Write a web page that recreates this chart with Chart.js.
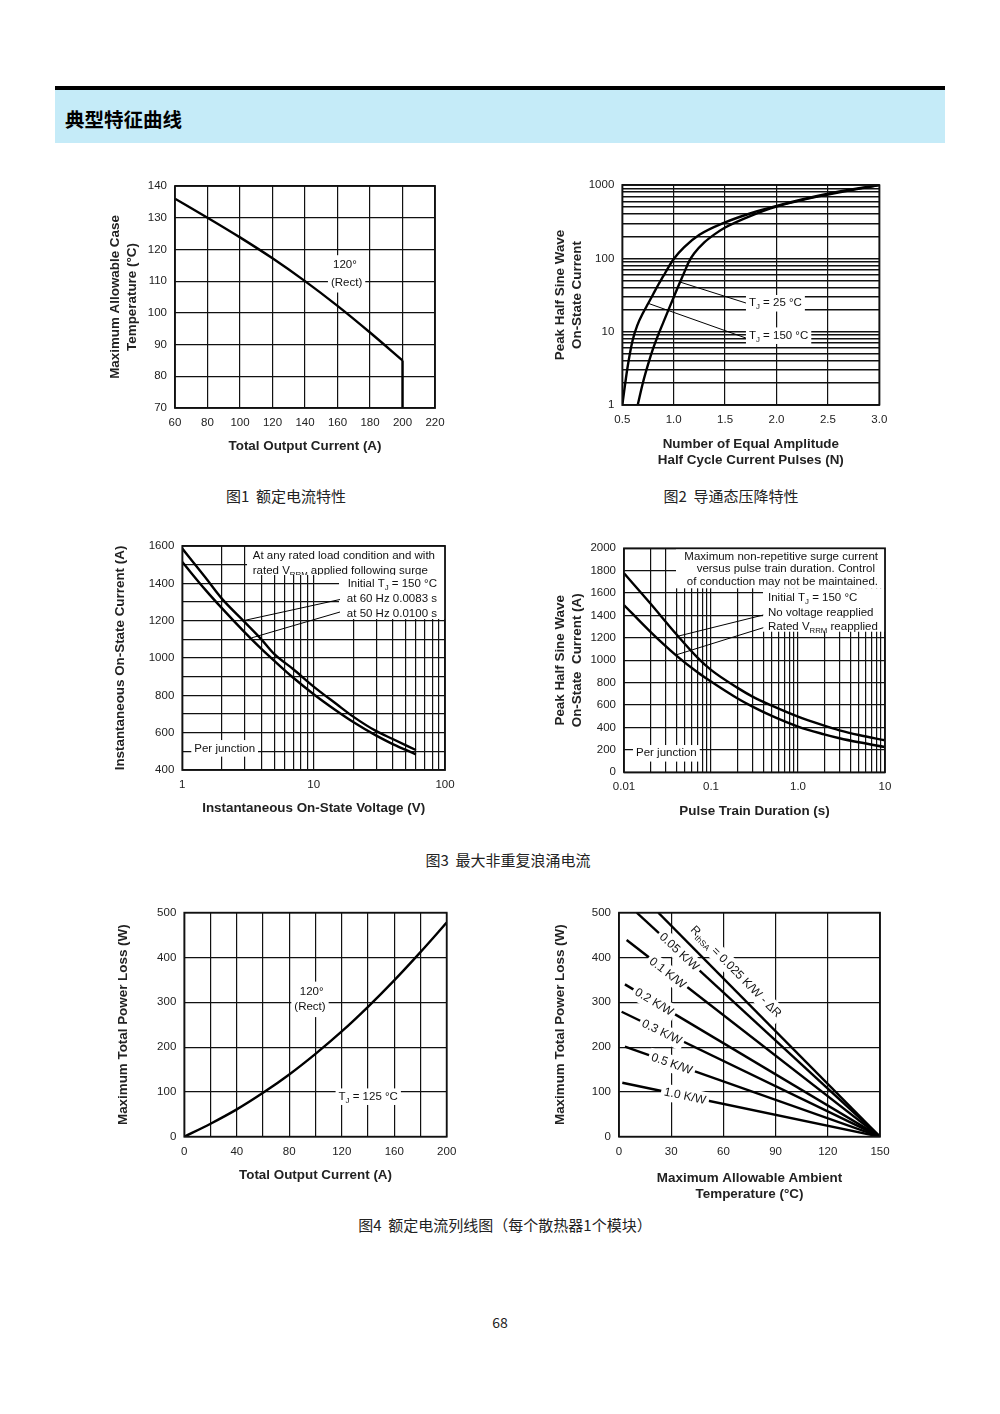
<!DOCTYPE html>
<html>
<head>
<meta charset="utf-8">
<script src="https://cdn.jsdelivr.net/npm/chart.js@4.4.1/dist/chart.umd.min.js"></script>
<style>
  body { margin: 0; width: 1000px; height: 1414px; position: relative; overflow: hidden; background: #fff; font-family: "Noto Sans CJK SC", sans-serif; }
  .bar { position: absolute; left: 55px; width: 890px; }
  .cap { position: absolute; width: 400px; height: 20px; line-height: 20px; font-size: 15px; color: #222; text-align: center; white-space: pre; }
  canvas { position: absolute; }
</style>
</head>
<body>
<div class="bar" style="top:86px;height:4px;background:#000"></div>
<div class="bar" style="top:90px;height:53px;background:#c5ebf8"></div>
<div style="position:absolute;left:65px;top:105px;height:28px;line-height:28px;font-size:19.5px;font-weight:bold;color:#000">典型特征曲线</div>

<canvas id="fig1"></canvas>
<canvas id="fig2"></canvas>
<canvas id="fig3"></canvas>
<canvas id="fig4"></canvas>
<canvas id="fig5"></canvas>
<canvas id="fig6"></canvas>

<div class="cap" style="left:86px;top:486px">图1  额定电流特性</div>
<div class="cap" style="left:531px;top:486px">图2  导通态压降特性</div>
<div class="cap" style="left:308px;top:850px">图3  最大非重复浪涌电流</div>
<div class="cap" style="left:305px;top:1215px">图4  额定电流列线图（每个散热器1个模块）</div>
<div class="cap" style="left:300px;top:1312px;font-size:14px">68</div>

<script>
const FONT = '"Liberation Sans", Arial, sans-serif';

// fig 1 - case temperature vs output current
const fig1Current = [60, 80, 100, 120, 140, 160, 180, 200];
const fig1CaseTemp = [136, 130, 123.8, 117.2, 110, 102.2, 93.8, 85];
const fig1DropCurrent = [200, 200];
const fig1DropTemp = [85, 70];
const fig1XTicks = [60, 80, 100, 120, 140, 160, 180, 200, 220];
const fig1YTicks = [70, 80, 90, 100, 110, 120, 130, 140];

// fig 2 - surge current vs number of pulses
const fig2Pulses150 = [0.5, 0.55, 0.6, 0.65, 0.7, 0.75, 0.8, 0.85, 0.9, 0.95, 1.0, 1.1, 1.25, 1.5, 1.75, 2.0, 2.5, 3.0];
const fig2Current150 = [1, 3.2, 7.6, 12.6, 17.8, 24, 32.4, 43.6, 57.5, 76, 98, 141, 209, 309, 412, 519, 759, 1000];
const fig2Pulses25 = [0.65, 0.7, 0.75, 0.8, 0.85, 0.9, 0.95, 1.0, 1.06, 1.1, 1.15, 1.2, 1.3, 1.4, 1.5, 1.75, 2.0, 2.5, 3.0];
const fig2Current25 = [1, 2.0, 3.55, 5.9, 9.1, 13.5, 20, 29.5, 46.8, 63, 91, 117, 166, 214, 263, 380, 507, 741, 1000];
const fig2XTicks = [0.5, 1.0, 1.5, 2.0, 2.5, 3.0];
const fig2XLabels = ['0.5', '1.0', '1.5', '2.0', '2.5', '3.0'];
const fig2YTicks = [1, 10, 100, 1000];

// fig 3 - on-state current vs voltage
const fig3Voltage = [1, 1.5, 2, 3, 4, 5, 7, 10, 15, 20, 30, 40, 60];
const fig3Current60Hz = [1586, 1431, 1318, 1191, 1100, 1022, 940, 847, 752, 686, 608, 566, 507];
const fig3Current50Hz = [1514, 1365, 1267, 1136, 1049, 986, 894, 806, 716, 657, 584, 539, 484];
const fig3XTicks = [1, 10, 100];
const fig3YTicks = [400, 600, 800, 1000, 1200, 1400, 1600];

// fig 4 - surge current vs pulse train duration
const fig4Duration = [0.01, 0.02, 0.04, 0.07, 0.1, 0.2, 0.3, 0.5, 1, 2, 3, 5, 10];
const fig4NoVoltage = [1777, 1509, 1232, 1024, 914, 756, 676, 595, 497, 417, 375, 333, 286];
const fig4RatedVrrm = [1494, 1256, 1042, 893, 810, 661, 586, 503, 408, 339, 304, 268, 226];
const fig4XTicks = [0.01, 0.1, 1, 10];
const fig4XLabels = ['0.01', '0.1', '1.0', '10'];
const fig4YTicks = [0, 200, 400, 600, 800, 1000, 1200, 1400, 1600, 1800, 2000];

// fig 5 - power loss vs output current
const fig5Current = [0, 20, 40, 60, 80, 100, 120, 140, 160, 180, 200];
const fig5Loss = [0, 29, 61, 98, 139, 185, 235, 290, 349, 412, 478];
const fig5XTicks = [0, 40, 80, 120, 160, 200];
const fig5YTicks = [0, 100, 200, 300, 400, 500];

// fig 6 - power loss vs ambient temperature, one line per heatsink resistance
const fig6Resist = ['0.025', '0.05', '0.1', '0.2', '0.3', '0.5', '1.0'];
const fig6StartTemp = [22.6, 10.2, 4.4, 3.4, 1.5, 3.4, 1.9];
const fig6StartLoss = [500, 500, 439, 340, 279, 201, 120.5];
const fig6EndTemp = 150;
const fig6EndLoss = 0;
const fig6XTicks = [0, 30, 60, 90, 120, 150];
const fig6YTicks = [0, 100, 200, 300, 400, 500];

// grid helpers
const range = (a, b, s) => { const r = []; for (let v = a; v <= b + 1e-9; v += s) r.push(+v.toFixed(6)); return r; };
const logGrid = decades => decades.flatMap((d, i) => (i === decades.length - 1 ? [1] : [1, 2, 3, 4, 5, 6, 7, 8, 9]).map(m => +(m * d).toPrecision(6)));

const pts = (xs, ys) => xs.map((x, i) => ({ x, y: ys[i] }));

function curve(xs, ys, extra) {
  return Object.assign({
    data: pts(xs, ys), showLine: true, pointRadius: 0, borderColor: '#000',
    borderWidth: 2.4, cubicInterpolationMode: 'monotone', tension: 0.4, fill: false
  }, extra || {});
}

function axis(o) {
  return {
    type: o.type || 'linear', position: o.pos, min: o.min, max: o.max,
    afterBuildTicks: s => { s.ticks = o.grid.map(v => ({ value: v })); },
    afterFit: s => { if (o.pos === 'left') s.width = o.size; else s.height = o.size; },
    ticks: {
      autoSkip: false, maxRotation: 0, padding: 8, color: '#222',
      font: { family: FONT, size: 11.5 },
      callback: v => {
        const i = o.ticks.findIndex(t => Math.abs(t - v) <= Math.abs(t) * 1e-6 + 1e-9);
        return i < 0 ? '' : (o.labels ? o.labels[i] : String(o.ticks[i]));
      }
    },
    grid: { color: '#111', lineWidth: o.gw || 1.2, drawTicks: false },
    border: { display: false },
    title: {
      display: true, text: o.title, color: '#222', padding: 0,
      font: { family: FONT, size: 13.4, weight: 'bold', lineHeight: 1.25 }
    }
  };
}

// text with _{sub} markup
function parseSegs(s) {
  return s.split(/_\{([^}]*)\}/).map((t, i) => ({ t, sub: i % 2 === 1 })).filter(p => p.t);
}

function drawNote(chart, t, px, py) {
  const ctx = chart.ctx;
  const size = t.size || 11.5;
  const segs = parseSegs(t.s);
  const fontOf = p => (p.sub ? size * 0.68 : size) + 'px ' + FONT;
  const widths = segs.map(p => { ctx.font = fontOf(p); return ctx.measureText(p.t).width; });
  const total = widths.reduce((a, b) => a + b, 0);
  let x0 = t.align === 'left' ? 0 : t.align === 'right' ? -total : -total / 2;
  ctx.save();
  if (t.clipY !== undefined) {
    ctx.beginPath();
    ctx.rect(0, 0, chart.width, py(t.clipY));
    ctx.clip();
  }
  ctx.translate(px(t.x), py(t.y));
  if (t.along) {
    const a = t.along;
    ctx.rotate(Math.atan2(py(a[3]) - py(a[1]), px(a[2]) - px(a[0])));
  }
  if (t.bg) {
    const bh = t.bh || 1.44;
    ctx.fillStyle = '#fff';
    ctx.fillRect(x0 - 3, -size * bh / 2, total + 6, size * bh);
  }
  ctx.fillStyle = '#111';
  ctx.textBaseline = 'middle';
  ctx.textAlign = 'left';
  segs.forEach((p, i) => {
    ctx.font = fontOf(p);
    ctx.fillText(p.t, x0, p.sub ? size * 0.32 : 0);
    x0 += widths[i];
  });
  ctx.restore();
}

function notesPlugin(notes) {
  return {
    id: 'notes',
    afterDatasetsDraw(chart) {
      const ctx = chart.ctx;
      const px = v => chart.scales.x.getPixelForValue(v);
      const py = v => chart.scales.y.getPixelForValue(v);
      ctx.save();
      ctx.fillStyle = '#fff';
      (notes.boxes || []).forEach(b => {
        const x1 = px(b[0]), y1 = py(b[1]), x2 = px(b[2]), y2 = py(b[3]);
        ctx.fillRect(Math.min(x1, x2), Math.min(y1, y2), Math.abs(x2 - x1), Math.abs(y2 - y1));
      });
      ctx.strokeStyle = '#000';
      ctx.lineWidth = 1;
      (notes.leaders || []).forEach(l => {
        ctx.beginPath();
        ctx.moveTo(px(l[0]), py(l[1]));
        ctx.lineTo(px(l[2]), py(l[3]));
        ctx.stroke();
      });
      ctx.restore();
      (notes.texts || []).forEach(t => drawNote(chart, t, px, py));
    }
  };
}

const framePlugin = {
  id: 'frame',
  afterDraw(chart) {
    const { left, top, right, bottom } = chart.chartArea;
    const ctx = chart.ctx;
    ctx.save();
    ctx.strokeStyle = '#111';
    ctx.lineWidth = 1.8;
    ctx.strokeRect(left, top, right - left, bottom - top);
    ctx.restore();
  }
};

// box / plot = [left, top, right, bottom] in page pixels
function makeChart(id, box, plot, xAxis, yAxis, datasets, notes) {
  const cv = document.getElementById(id);
  const w = box[2] - box[0], h = box[3] - box[1];
  cv.width = w; cv.height = h;
  cv.style.left = box[0] + 'px'; cv.style.top = box[1] + 'px';
  cv.style.width = w + 'px'; cv.style.height = h + 'px';
  xAxis.pos = 'bottom'; xAxis.size = box[3] - plot[3];
  yAxis.pos = 'left'; yAxis.size = plot[0] - box[0];
  return new Chart(cv, {
    type: 'scatter',
    data: { datasets },
    options: {
      responsive: false, animation: false, events: [],
      layout: { padding: { top: plot[1] - box[1], right: box[2] - plot[2], left: 0, bottom: 0 } },
      plugins: { legend: { display: false }, tooltip: { enabled: false } },
      scales: { x: axis(xAxis), y: axis(yAxis) }
    },
    plugins: [notesPlugin(notes), framePlugin]
  });
}

// fig 1
makeChart('fig1', [107, 168, 460, 455], [175, 186, 435, 408],
  { min: 60, max: 220, grid: fig1XTicks, ticks: fig1XTicks, title: 'Total Output Current (A)' },
  { min: 70, max: 140, grid: fig1YTicks, ticks: fig1YTicks, title: ['Maximum Allowable Case', 'Temperature (°C)'] },
  [curve(fig1Current, fig1CaseTemp), curve(fig1DropCurrent, fig1DropTemp, { tension: 0, cubicInterpolationMode: 'default' })],
  { texts: [
      { x: 164.6, y: 115.1, align: 'center', s: '120°', bg: true, bh: 1.7 },
      { x: 165.6, y: 109.5, align: 'center', s: '(Rect)', bg: true, bh: 1.7 }
  ] });

// fig 2
makeChart('fig2', [552, 167, 905, 469], [622.3, 185, 879.3, 405],
  { min: 0.5, max: 3.0, grid: fig2XTicks, ticks: fig2XTicks, labels: fig2XLabels,
    title: ['Number of Equal Amplitude', 'Half Cycle Current Pulses (N)'] },
  { type: 'logarithmic', min: 1, max: 1000, grid: logGrid([1, 10, 100, 1000]), ticks: fig2YTicks, gw: 1.5,
    title: ['Peak Half Sine Wave', 'On-State Current'] },
  [curve(fig2Pulses150, fig2Current150), curve(fig2Pulses25, fig2Current25)],
  { leaders: [[1.71, 24.4, 1.061, 47.5], [1.71, 8.12, 0.753, 24.3]],
    texts: [
      { x: 1.732, y: 24.4, align: 'left', s: 'T_{J} = 25 °C', bg: true },
      { x: 1.732, y: 8.81, align: 'left', s: 'T_{J} = 150 °C', bg: true }
  ] });

// fig 3
makeChart('fig3', [112, 528, 470, 817], [182.3, 546, 445, 770],
  { type: 'logarithmic', min: 1, max: 100, grid: logGrid([1, 10, 100]), ticks: fig3XTicks,
    title: 'Instantaneous On-State Voltage (V)' },
  { min: 400, max: 1600, grid: range(400, 1600, 100), ticks: fig3YTicks,
    title: 'Instantaneous On-State Current (A)' },
  [curve(fig3Voltage, fig3Current60Hz), curve(fig3Voltage, fig3Current50Hz)],
  { boxes: [[3.11, 1600, 100, 1444.6], [15.6, 1444.6, 100, 1209]],
    leaders: [[15.87, 1313.4, 2.914, 1200], [15.87, 1246.4, 3.376, 1108]],
    texts: [
      { x: 3.44, y: 1548, align: 'left', s: 'At any rated load condition and with' },
      { x: 3.44, y: 1467.7, align: 'left', s: 'rated V_{RRM} applied following surge', clipY: 1444.6 },
      { x: 86.9, y: 1394.8, align: 'right', s: 'Initial T_{J} = 150 °C' },
      { x: 86.9, y: 1314.5, align: 'right', s: 'at 60 Hz 0.0083 s' },
      { x: 86.9, y: 1235.7, align: 'right', s: 'at 50 Hz 0.0100 s' },
      { x: 1.234, y: 516, align: 'left', s: 'Per junction', bg: true }
  ] });

// fig 4
makeChart('fig4', [552, 530, 910, 820], [624, 548.3, 885, 772.3],
  { type: 'logarithmic', min: 0.01, max: 10, grid: logGrid([0.01, 0.1, 1, 10]), ticks: fig4XTicks, labels: fig4XLabels,
    title: 'Pulse Train Duration (s)' },
  { min: 0, max: 2000, grid: fig4YTicks, ticks: fig4YTicks,
    title: ['Peak Half Sine Wave', 'On-State  Current (A)'] },
  [curve(fig4Duration, fig4NoVoltage), curve(fig4Duration, fig4RatedVrrm)],
  { boxes: [[0.0396, 2000, 10, 1642.8], [0.396, 1642.8, 10, 1255.3]],
    leaders: [[0.399, 1404.4, 0.0421, 1216], [0.399, 1291, 0.0396, 1048]],
    texts: [
      { x: 8.31, y: 1925, align: 'right', s: 'Maximum non-repetitive surge current' },
      { x: 7.67, y: 1815, align: 'right', s: 'versus pulse train duration. Control' },
      { x: 8.31, y: 1702, align: 'right', s: 'of conduction may not be maintained.' },
      { x: 0.452, y: 1553.5, align: 'left', s: 'Initial T_{J} = 150 °C' },
      { x: 0.452, y: 1425, align: 'left', s: 'No voltage reapplied' },
      { x: 0.452, y: 1300, align: 'left', s: 'Rated V_{RRM} reapplied' },
      { x: 0.01374, y: 169.6, align: 'left', s: 'Per junction', bg: true }
  ] });

// fig 5
makeChart('fig5', [115, 894, 472, 1184], [184.3, 912.7, 446.7, 1136.7],
  { min: 0, max: 200, grid: range(0, 200, 20), ticks: fig5XTicks, title: 'Total Output Current (A)' },
  { min: 0, max: 500, grid: fig5YTicks, ticks: fig5YTicks, title: 'Maximum Total Power Loss (W)' },
  [curve(fig5Current, fig5Loss)],
  { texts: [
      { x: 97.1, y: 324.3, align: 'center', s: '120°', bg: true, bh: 1.7 },
      { x: 95.8, y: 288.8, align: 'center', s: '(Rect)', bg: true, bh: 1.7 },
      { x: 140.2, y: 89.3, align: 'center', s: 'T_{J} = 125 °C', bg: true }
  ] });

// fig 6
const fig6Lines = fig6Resist.map((r, i) => [fig6StartTemp[i], fig6StartLoss[i], fig6EndTemp, fig6EndLoss]);
const fig6NotePos = [[67.1, 368], [34.5, 412], [27.8, 365], [20.1, 300], [24.5, 233], [30.3, 162], [37.9, 90]];
makeChart('fig6', [552, 894, 905, 1203], [619, 912.7, 880, 1136.7],
  { min: 0, max: 150, grid: fig6XTicks, ticks: fig6XTicks, title: ['Maximum Allowable Ambient', 'Temperature (°C)'] },
  { min: 0, max: 500, grid: fig6YTicks, ticks: fig6YTicks, title: 'Maximum Total Power Loss (W)' },
  fig6Lines.map(l => curve([l[0], l[2]], [l[1], l[3]], { tension: 0, cubicInterpolationMode: 'default' })),
  { texts: fig6Resist.map((r, i) => ({
      x: fig6NotePos[i][0], y: fig6NotePos[i][1], align: 'center', bg: true, size: 12,
      along: fig6Lines[i],
      s: i === 0 ? 'R_{thSA} = ' + r + ' K/W - ΔR' : r + ' K/W'
  })) });
</script>
</body>
</html>
